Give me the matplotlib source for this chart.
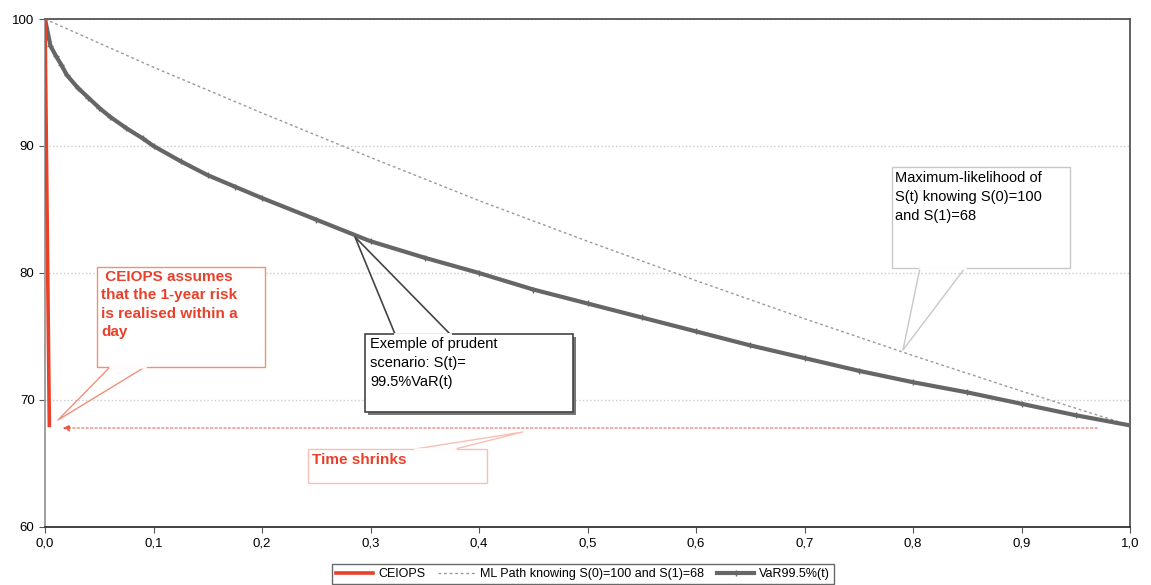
import matplotlib.pyplot as plt
from matplotlib.patches import Rectangle

plt.rcParams['font.family'] = ['Liberation Sans', 'DejaVu Sans']

# data
ceiops_t = [0.0, 0.004]
ceiops_s = [100, 68]

ml_t = [0.0, 0.1, 0.2, 0.3, 0.4, 0.5, 0.6, 0.7, 0.8, 0.9, 1.0]
ml_s = [100, 96.2, 92.6, 89.1, 85.7, 82.5, 79.4, 76.4, 73.5, 70.7, 68.0]

var_t = [0.0, 0.005, 0.01, 0.015, 0.02, 0.03, 0.04, 0.05, 0.06, 0.075, 0.09, 0.1,
         0.125, 0.15, 0.175, 0.2, 0.25, 0.3, 0.35, 0.4, 0.45, 0.5, 0.55, 0.6,
         0.65, 0.7, 0.75, 0.8, 0.85, 0.9, 0.95, 1.0]
var_s = [100, 97.9, 97.1, 96.4, 95.6, 94.6, 93.8, 93.0, 92.3, 91.4, 90.6, 90.0,
         88.8, 87.7, 86.8, 85.9, 84.2, 82.5, 81.2, 80.0, 78.7, 77.6, 76.5, 75.4,
         74.3, 73.3, 72.3, 71.4, 70.6, 69.7, 68.8, 68.0]

x_ticks = [0.0, 0.1, 0.2, 0.3, 0.4, 0.5, 0.6, 0.7, 0.8, 0.9, 1.0]
x_labels = ['0,0', '0,1', '0,2', '0,3', '0,4', '0,5', '0,6', '0,7', '0,8', '0,9', '1,0']
y_ticks = [60, 70, 80, 90, 100]

red = '#e8402a'

fig = plt.figure(figsize=(11.51, 5.85), dpi=100)
ax = fig.add_axes([45 / 1151, 1 - 527 / 585, 1085 / 1151, 508 / 585])


def px(x, y):
    # pixel position in the picture -> data coordinates (for annotations)
    return (x - 45) / 1085, 100 - (y - 19) * 40 / 508


ax.plot(var_t, var_s, color='#666666', lw=3, marker='+', ms=4, mew=1,
        label='VaR99.5%(t)', zorder=3)
ax.plot(ml_t, ml_s, color='#999999', lw=1, linestyle=(0, (2, 2)),
        label='ML Path knowing S(0)=100 and S(1)=68', zorder=2)
ax.plot(ceiops_t, ceiops_s, color=red, lw=2.6, label='CEIOPS', zorder=4)

ax.set_xlim(0, 1)
ax.set_ylim(60, 100)
ax.set_xticks(x_ticks)
ax.set_xticklabels(x_labels)
ax.set_yticks(y_ticks)
ax.tick_params(axis='both', labelsize=9.5, length=4, color='#555555')
ax.yaxis.grid(True, linestyle=':', color='#cccccc', lw=1)
ax.set_axisbelow(True)
for side, c in [('left', '#999999'), ('bottom', '#333333'),
                ('top', '#555555'), ('right', '#555555')]:
    ax.spines[side].set_color(c)
    ax.spines[side].set_linewidth(1.3)


def callout(box, bases, tip, edge, lw=1.0, shadow=False):
    (x0, y0), (x1, y1) = px(box[0], box[1]), px(box[2], box[3])
    if shadow:
        ax.add_patch(Rectangle((x0 + 0.003, y1 - 0.25), x1 - x0, y0 - y1,
                               facecolor='#777777', edgecolor='none', zorder=5))
    ax.add_patch(Rectangle((x0, y1), x1 - x0, y0 - y1, facecolor='white',
                           edgecolor=edge, lw=lw, zorder=6))
    base_y = box[1] if tip[1] < box[1] else box[3]
    tx, ty = px(*tip)
    (bx0, by), (bx1, _) = px(bases[0], base_y), px(bases[1], base_y)
    ax.plot([bx0, tx, bx1], [by, ty, by], color=edge, lw=lw, zorder=6,
            clip_on=False)
    ax.plot([bx0, bx1], [by, by], color='white', lw=lw + 0.8, zorder=7)


# CEIOPS callout
callout((97, 267, 265, 367), (110, 145), (58, 420), '#f0907a')
ax.text(*px(101, 270), ' CEIOPS assumes\nthat the 1-year risk\nis realised within a\nday',
        color=red, fontsize=11, fontweight='bold', va='top', ha='left',
        linespacing=1.4, zorder=8)

# Time shrinks (pointer going up)
callout((308, 449, 487, 483), (415, 455), (523, 432), '#f7c0b5')
ax.text(*px(312, 453), 'Time shrinks', color=red, fontsize=11, fontweight='bold',
        va='top', ha='left', zorder=8)

# red arrow
ax.annotate('', xy=px(60, 428), xytext=px(1100, 428),
            arrowprops=dict(arrowstyle='-|>', color=red, lw=0.8, linestyle=(0, (2, 2)),
                            mutation_scale=10, alpha=0.8), zorder=5)

# prudent scenario callout
callout((365, 334, 573, 412), (395, 450), (355, 237), '#444444', lw=1.2, shadow=True)
ax.text(*px(370, 337), 'Exemple of prudent\nscenario: S(t)=\n99.5%VaR(t)',
        color='black', fontsize=10.5, va='top', ha='left', linespacing=1.45, zorder=8)

# ML callout
callout((892, 167, 1070, 268), (920, 965), (903, 350), '#c8c8c8')
ax.text(*px(895, 171), 'Maximum-likelihood of\nS(t) knowing S(0)=100\nand S(1)=68',
        color='black', fontsize=10.5, va='top', ha='left', linespacing=1.45, zorder=8)

handles, labels = ax.get_legend_handles_labels()
order = [2, 1, 0]
leg = ax.legend([handles[i] for i in order], [labels[i] for i in order],
                loc='center', bbox_to_anchor=((583 - 45) / 1085, (527 - 574) / 508),
                ncol=3, fontsize=9, frameon=True, fancybox=False,
                edgecolor='#444444', handlelength=3, columnspacing=1.0,
                handletextpad=0.4, borderpad=0.3)
leg.get_frame().set_linewidth(1)

fig.savefig('out.png', dpi=100)
